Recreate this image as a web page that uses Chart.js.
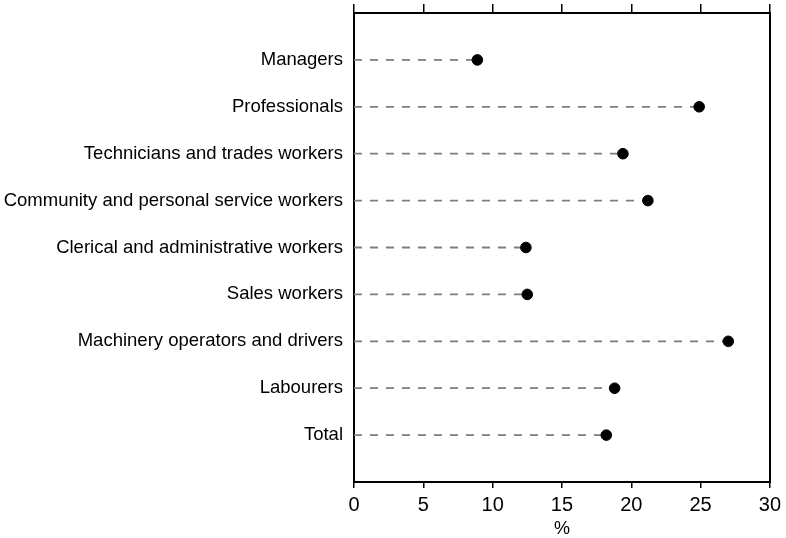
<!DOCTYPE html>
<html>
<head>
<meta charset="utf-8">
<script src="https://cdn.jsdelivr.net/npm/chart.js@4"></script>
<style>
  html, body { margin: 0; padding: 0; background: #fff; }
  #wrap { width: 786px; height: 538px; }
</style>
</head>
<body>
<div id="wrap"><canvas id="myChart"></canvas></div>
<script>
const categories = [
    'Managers',
    'Professionals',
    'Technicians and trades workers',
    'Community and personal service workers',
    'Clerical and administrative workers',
    'Sales workers',
    'Machinery operators and drivers',
    'Labourers',
    'Total'
];
const values = [8.9, 24.9, 19.4, 21.2, 12.4, 12.5, 27.0, 18.8, 18.2];
const xTicks = [0, 5, 10, 15, 20, 25, 30];

// dots at each value, dashed leaders from 0 (a gap point breaks the line between rows)
const dotData = values.map((v, i) => ({x: v, y: i + 1}));
const dashData = values.flatMap((v, i) => [{x: 0, y: i + 1}, {x: v, y: i + 1}, {x: null, y: null}]);

const fontFam = '"Liberation Sans", Arial, sans-serif';

const ctx = document.getElementById('myChart').getContext('2d');
const myChart = new Chart(ctx, {
    type: 'scatter',
    data: {
        datasets: [{
            type: 'scatter',
            data: dotData,
            backgroundColor: '#000',
            borderColor: '#000',
            pointRadius: 5.3,
            pointHoverRadius: 5.3
        }, {
            type: 'line',
            data: dashData,
            borderColor: '#7f7f7f',
            borderWidth: 1.8,
            borderDash: [8, 8],
            pointRadius: 0,
            spanGaps: false,
            fill: false
        }]
    },
    options: {
        responsive: true,
        maintainAspectRatio: false,
        animation: false,
        layout: { padding: { left: 0, right: 13, top: 4, bottom: 0 } },
        plugins: {
            legend: { display: false },
            tooltip: { enabled: false }
        },
        scales: {
            x: {
                type: 'linear',
                position: 'bottom',
                min: 0,
                max: 30,
                afterBuildTicks: (s) => { s.ticks = xTicks.map(v => ({value: v})); },
                afterFit: (s) => { s.height = 56; },
                grid: { drawOnChartArea: false, drawTicks: true, tickLength: 6, color: '#000', lineWidth: 1.5 },
                border: { display: true, color: '#000', width: 2 },
                ticks: { color: '#000', padding: 5, font: { family: fontFam, size: 20 } },
                title: { display: true, text: '%', color: '#000', padding: { top: 0, bottom: 0 }, font: { family: fontFam, size: 18, lineHeight: 1 } }
            },
            x2: {
                type: 'linear',
                position: 'top',
                min: 0,
                max: 30,
                afterBuildTicks: (s) => { s.ticks = xTicks.map(v => ({value: v})); },
                afterFit: (s) => { s.height = 9; },
                grid: { drawOnChartArea: false, drawTicks: true, tickLength: 9, color: '#000', lineWidth: 1.5 },
                border: { display: true, color: '#000', width: 2 },
                ticks: { display: false }
            },
            y: {
                type: 'linear',
                position: 'left',
                reverse: true,
                min: 0,
                max: 10,
                afterBuildTicks: (s) => { s.ticks = categories.map((c, i) => ({value: i + 1})); },
                afterFit: (s) => { s.width = 354; s.paddingTop = 0; s.paddingBottom = 0; },
                grid: { display: false },
                border: { display: true, color: '#000', width: 2 },
                ticks: {
                    color: '#000',
                    padding: 3,
                    font: { family: fontFam, size: 18.5 },
                    callback: (v) => categories[v - 1]
                }
            },
            y2: {
                type: 'linear',
                position: 'right',
                min: 0,
                max: 10,
                afterFit: (s) => { s.width = 0; s.paddingTop = 0; s.paddingBottom = 0; },
                grid: { display: false },
                border: { display: true, color: '#000', width: 2 },
                ticks: { display: false }
            }
        }
    }
});
</script>
</body>
</html>
